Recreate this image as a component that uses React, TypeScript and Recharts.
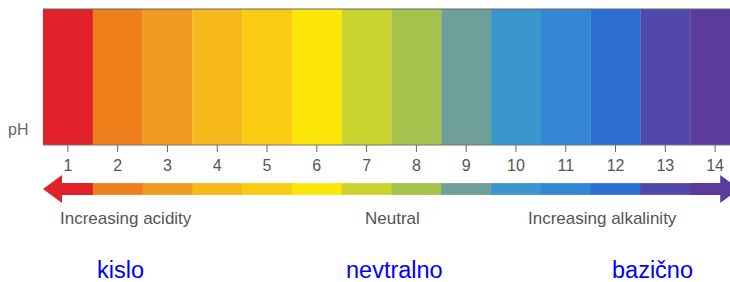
import React from 'react';
import { BarChart, Bar, XAxis, YAxis, Cell, ReferenceLine } from 'recharts';

// pH scale strip: one band per pH unit
const phValues = [1, 2, 3, 4, 5, 6, 7, 8, 9, 10, 11, 12, 13, 14];
const phColors = [
  '#E1222B', '#EE7F1B', '#F29B22', '#F6B81A', '#F9CB12', '#FDE70A', '#C9D52E',
  '#A6C14C', '#6E9F98', '#3B97CB', '#3487D4', '#2E6FD2', '#5148A9', '#5B3B9C',
];
const stripLevel = [1, 1, 1, 1, 1, 1, 1, 1, 1, 1, 1, 1, 1, 1];

const captions = [
  { text: 'Increasing acidity', left: 60 },
  { text: 'Neutral', left: 365 },
  { text: 'Increasing alkalinity', left: 528 },
];
const blueLabels = [
  { text: 'kislo', left: 97 },
  { text: 'nevtralno', left: 346 },
  { text: 'bazično', left: 612 },
];

const data = phValues.map((ph, i) => ({ ph, level: stripLevel[i], color: phColors[i] }));

const FONT = '"Liberation Sans", Arial, Helvetica, sans-serif';

// arrow pieces: first band gets a left head, last band a right head
const ArrowPiece = (props: any) => {
  const { x, y, width, height, index, fill } = props;
  const head = 19;
  const bodyTop = y + height * 0.29;
  const bodyH = height * 0.42;
  const bodyBot = bodyTop + bodyH;
  if (index === 0) {
    const pts = [
      [x, y + height / 2], [x + head, y], [x + head, bodyTop], [x + width + 0.5, bodyTop],
      [x + width + 0.5, bodyBot], [x + head, bodyBot], [x + head, y + height],
    ];
    return <polygon points={pts.map((p) => p.join(',')).join(' ')} fill={fill} />;
  }
  if (index === phValues.length - 1) {
    const base = x + width * 0.6;
    const pts = [
      [x, bodyTop], [base, bodyTop], [base, y], [base + head, y + height / 2],
      [base, y + height], [base, bodyBot], [x, bodyBot],
    ];
    return <polygon points={pts.map((p) => p.join(',')).join(' ')} fill={fill} />;
  }
  return <rect x={x} y={bodyTop} width={width + 0.5} height={bodyH} fill={fill} />;
};

export default function App() {
  return (
    <div style={{ position: 'absolute', top: 0, left: 0, width: 730, height: 282, overflow: 'hidden', background: '#fff', fontFamily: FONT }}>
      <div style={{ position: 'absolute', top: 0, left: 0 }}>
        <BarChart width={740} height={175} data={data} margin={{ top: 9, right: 0, left: 43, bottom: 0 }} barCategoryGap={0}>
          <XAxis
            dataKey="ph"
            height={30}
            tickSize={7}
            tickMargin={8}
            axisLine={{ stroke: '#777' }}
            tickLine={{ stroke: '#666' }}
            tick={{ fill: '#555', fontSize: 16, fontFamily: FONT }}
            interval={0}
          />
          <YAxis hide domain={[0, 1]} />
          <Bar dataKey="level" isAnimationActive={false}>
            {data.map((d) => (
              <Cell key={d.ph} fill={d.color} />
            ))}
          </Bar>
          <ReferenceLine y={1} stroke="#666" strokeWidth={1} />
        </BarChart>
      </div>

      <div style={{ position: 'absolute', top: 175, left: 0 }}>
        <BarChart width={740} height={28} data={data} margin={{ top: 0, right: 0, left: 43, bottom: 0 }} barCategoryGap={0}>
          <XAxis dataKey="ph" hide />
          <YAxis hide domain={[0, 1]} />
          <Bar dataKey="level" isAnimationActive={false} shape={ArrowPiece}>
            {data.map((d) => (
              <Cell key={d.ph} fill={d.color} />
            ))}
          </Bar>
        </BarChart>
      </div>

      <div style={{ position: 'absolute', left: 8, top: 121.5, fontSize: 16, lineHeight: '16px', color: '#666' }}>pH</div>

      {captions.map((c) => (
        <div key={c.text} style={{ position: 'absolute', left: c.left, top: 209.6, fontSize: 17, lineHeight: '17px', color: '#555', whiteSpace: 'nowrap' }}>
          {c.text}
        </div>
      ))}

      {blueLabels.map((c) => (
        <div key={c.text} style={{ position: 'absolute', left: c.left, top: 261.5, fontSize: 23.5, lineHeight: '17px', color: '#0000FF', whiteSpace: 'nowrap' }}>
          {c.text}
        </div>
      ))}
    </div>
  );
}
